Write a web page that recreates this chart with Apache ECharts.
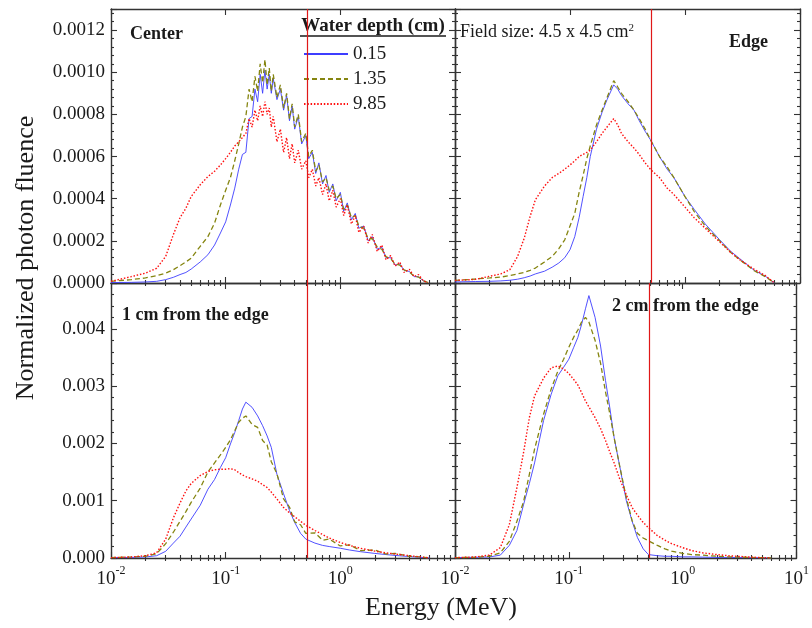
<!DOCTYPE html>
<html><head><meta charset="utf-8">
<script src="https://cdn.jsdelivr.net/npm/echarts@6/dist/echarts.min.js"></script>
<style>html,body{margin:0;padding:0;background:#fff}#c{width:812px;height:628px}</style>
</head><body><div id="c"></div>
<script>
// ---------------- DATA ----------------
const depthNames = ['0.15', '1.35', '9.85'];
const panelTitles = ['Center', 'Edge', '1 cm from the edge', '2 cm from the edge'];
const xTickLabels = ['10^-2', '10^-1', '10^0', '10^1'];
const annihilationEnergy = 0.511;
const minorTickEnergies = [0.02,0.03,0.04,0.05,0.06,0.07,0.08,0.09,0.2,0.3,0.4,0.5,0.6,0.7,0.8,0.9,2,3,4,5,6,7,8,9];

// Center panel
const energyCenter = [0.01,0.015,0.02,0.025,0.03,0.035,0.04,0.045,0.05,0.06,0.07,0.08,0.09,0.1,0.11,0.12,0.13,0.14,
  0.15,0.16,0.17,0.18,0.19,0.20,0.21,0.22,0.23,0.24,0.25,0.26,0.28,0.30,0.32,0.34,0.36,0.38,0.40,
  0.43,0.46,0.50,0.53,0.57,0.61,0.65,0.70,0.75,0.80,0.86,0.92,1.0,1.07,1.15,1.25,1.35,1.45,1.6,1.75,1.9,
  2.1,2.3,2.5,2.75,3.0,3.3,3.6,4.0,4.4,4.8,5.3,5.8];
const center015 = [0.000002,0.000003,0.000005,0.000008,0.000016,0.000027,0.00004,0.00005,0.000066,0.0001,0.000134,0.00018,0.000237,0.00029,0.00037,0.00045,0.00054,0.00061,
  0.00062,0.00078,0.00079,0.00092,0.00086,0.00099,0.0009,0.00101,0.00092,0.00099,0.0009,0.00097,0.00087,0.00092,0.00082,0.00089,0.00077,0.00084,0.00073,
  0.00079,0.00066,0.0007,0.00059,0.00062,0.00052,0.00057,0.00047,0.00051,0.00043,0.00047,0.00039,0.00043,0.00034,0.00038,0.0003,0.00033,0.00026,0.00027,0.0002,0.00022,
  0.00016,0.00017,0.00012,0.00012,0.000085,0.00009,0.00006,0.000055,0.00003,0.00003,0.00001,0.000002];
const center135 = [0.000008,0.000016,0.000024,0.000035,0.000047,0.000063,0.000082,0.0001,0.000118,0.000174,0.00022,0.000284,0.00037,0.00044,0.0005,0.00058,0.00066,0.00074,
  0.00079,0.00092,0.00086,0.00098,0.00091,0.00104,0.00095,0.00106,0.00094,0.00102,0.00091,0.00099,0.00088,0.00094,0.00083,0.0009,0.00078,0.00085,0.00074,
  0.0008,0.00067,0.00071,0.0006,0.00063,0.00053,0.00056,0.00048,0.0005,0.00044,0.00046,0.0004,0.00042,0.00035,0.00037,0.00031,0.00032,0.00027,0.00026,0.00021,0.00021,
  0.00017,0.00016,0.000125,0.000115,0.00009,0.000085,0.000062,0.000052,0.000032,0.000028,0.000011,0.000002];
const center985 = [0.000008,0.00003,0.000047,0.00007,0.000126,0.00023,0.00031,0.000355,0.00041,0.000466,0.000505,0.00053,0.00056,0.00059,0.00062,0.00065,0.00067,0.00069,
  0.00071,0.00078,0.00074,0.00082,0.00077,0.00084,0.00079,0.00086,0.0008,0.00083,0.00074,0.00079,0.00067,0.00073,0.00062,0.00069,0.00059,0.00066,0.00057,
  0.00063,0.00054,0.00058,0.0005,0.00054,0.00046,0.0005,0.00042,0.00047,0.00039,0.00044,0.00036,0.0004,0.00032,0.00037,0.00028,0.00032,0.00024,0.00027,0.00019,0.00023,
  0.00015,0.00018,0.00011,0.00013,0.00008,0.0001,0.00005,0.000065,0.00003,0.00004,0.00001,0.000002];

// Edge panel
const energyEdge = [0.01,0.015,0.02,0.025,0.03,0.035,0.04,0.045,0.05,0.06,0.07,0.08,0.09,0.1,0.11,0.12,0.13,0.14,0.15,0.17,0.19,0.21,0.24,0.26,0.28,0.32,0.36,0.4,0.45,0.5,0.6,0.7,0.8,1.0,1.2,1.5,2.0,2.5,3.0,4.0,5.0,6.0];
const edge015 = [0.000005,0.000007,0.000008,0.00001,0.000013,0.000018,0.000025,0.000033,0.000043,0.000056,0.000075,0.000095,0.00012,0.000158,0.00022,0.00031,0.00041,0.0005,0.0006,0.00073,0.00081,0.00087,0.00094,0.00092,0.00089,0.00085,0.00082,0.00077,0.00072,0.00068,0.0006,0.00054,0.0005,0.00041,0.00035,0.00028,0.000205,0.00015,0.000115,0.00006,0.000032,0];
const edge135 = [0.000012,0.000019,0.000024,0.000028,0.000035,0.000043,0.00005,0.00006,0.000071,0.0001,0.000126,0.000163,0.000205,0.00027,0.00033,0.00043,0.00051,0.00059,0.00065,0.00075,0.00082,0.00088,0.00096,0.00093,0.0009,0.00086,0.00082,0.00078,0.00073,0.00068,0.0006,0.00055,0.0005,0.00041,0.00034,0.00027,0.0002,0.000145,0.00011,0.000058,0.00003,0];
const edge985 = [0.000012,0.000017,0.000032,0.000043,0.000063,0.000126,0.000213,0.000316,0.000395,0.00046,0.0005,0.00052,0.00054,0.00056,0.00058,0.0006,0.00061,0.00062,0.00063,0.00067,0.00071,0.00074,0.00078,0.00075,0.00071,0.00067,0.00064,0.00061,0.00057,0.00054,0.0005,0.00045,0.00042,0.00036,0.00031,0.00026,0.000195,0.000145,0.00011,0.000065,0.000035,0];

// 1 cm / 2 cm from the edge panels
const energyOff = [0.01,0.015,0.02,0.025,0.03,0.035,0.04,0.045,0.05,0.06,0.07,0.08,0.09,0.1,0.11,0.12,0.13,0.14,0.15,0.17,0.19,0.21,0.23,0.25,0.28,0.32,0.36,0.4,0.45,0.5,0.6,0.7,0.8,1.0,1.2,1.5,2.0,2.5,3.0,4.0,5.0,6.0];
const cm1_015 = [0.000006,0.00001,0.000018,0.00004,0.000117,0.00026,0.00038,0.00054,0.00068,0.00092,0.0012,0.00137,0.00158,0.00175,0.00199,0.00219,0.0024,0.0026,0.00272,0.00263,0.00248,0.00231,0.00213,0.00193,0.00146,0.00112,0.00083,0.00062,0.00043,0.00033,0.00026,0.00022,0.0002,0.00017,0.00014,0.00011,0.00008,0.00006,0.000045,0.000025,0.000012,0];
const cm1_135 = [0.000006,0.000018,0.00003,0.000076,0.00025,0.00045,0.00064,0.00081,0.00097,0.00122,0.0015,0.00166,0.0018,0.00193,0.00206,0.00222,0.00237,0.00244,0.00248,0.00233,0.00228,0.00205,0.00197,0.00168,0.00147,0.00103,0.00089,0.00063,0.00058,0.00043,0.00044,0.00031,0.00033,0.00021,0.00023,0.00013,0.00014,0.00007,0.00008,0.00003,0.00002,0];
const cm1_985 = [0.000006,0.000018,0.00004,0.00009,0.00033,0.0007,0.00096,0.00117,0.0013,0.00144,0.00151,0.00154,0.00155,0.00155,0.00156,0.00154,0.00149,0.00145,0.00142,0.00138,0.00134,0.00128,0.00123,0.00115,0.00103,0.00088,0.00079,0.00072,0.00064,0.00057,0.00048,0.00041,0.00035,0.00027,0.00022,0.00017,0.00012,0.00009,0.00007,0.00004,0.00002,0];
const cm2_015 = [0.000006,0.000012,0.000018,0.00005,0.00022,0.00048,0.00093,0.0013,0.00166,0.0024,0.00286,0.00318,0.00333,0.00347,0.00367,0.00385,0.00409,0.00435,0.00458,0.0042,0.0037,0.0031,0.0026,0.0021,0.0016,0.001,0.00064,0.00036,0.00016,0.00006,0.00004,0.00003,0.00003,0.00002,0.00002,0.000015,0.00001,0.00001,0.000008,0.000005,0.000003,0];
const cm2_135 = [0.000006,0.000012,0.00003,0.00009,0.00029,0.00064,0.00098,0.00146,0.0019,0.00251,0.00295,0.00326,0.00347,0.00368,0.00385,0.00398,0.00413,0.0042,0.00412,0.0038,0.0034,0.0029,0.0025,0.0021,0.0016,0.00105,0.00065,0.00043,0.00035,0.0003,0.00022,0.00016,0.00012,0.00008,0.00006,0.00005,0.00003,0.00002,0.000015,0.00001,0.000005,0];
const cm2_985 = [0.000006,0.000018,0.00005,0.00018,0.00058,0.00123,0.00184,0.00245,0.00283,0.00314,0.00332,0.00335,0.0033,0.00322,0.00312,0.00302,0.00288,0.00274,0.00264,0.00245,0.00226,0.00205,0.00184,0.00166,0.00138,0.0011,0.00088,0.00075,0.00062,0.00053,0.00039,0.00031,0.00025,0.00018,0.00013,0.00009,0.00006,0.00004,0.00003,0.000015,0.000006,0];

// ---------------- CHART ----------------
const FONT = '"Liberation Serif", "Times New Roman", serif';
const INK = '#1a1a1a';
const panels = [
  { e: energyCenter, s: [center015, center135, center985] },
  { e: energyEdge, s: [edge015, edge135, edge985] },
  { e: energyOff, s: [cm1_015, cm1_135, cm1_985] },
  { e: energyOff, s: [cm2_015, cm2_135, cm2_985] }
];
const grids = [
  { left: 111, top: 9, width: 344, height: 274 },
  { left: 455, top: 9, width: 345, height: 274 },
  { left: 111, top: 283, width: 344, height: 275 },
  { left: 455, top: 283, width: 345, height: 275 }
];
const seriesStyles = [
  { color: '#3d3dff', type: 'solid', width: 0.9 },
  { color: '#858510', type: [5, 3], width: 1.3 },
  { color: '#ff1010', type: [1.5, 1.8], width: 1.4 }
];
const axisLineStyle = { color: '#333', width: 1.4 };
const tickLineStyle = { color: '#333', width: 1.1 };
const minorLog = minorTickEnergies.map(v => Math.log10(v));

function supFmt(v) {
  const ex = Math.round(Math.log10(v));
  const lbl = xTickLabels.find(t => t === '10^' + ex) || ('10^' + ex);
  const parts = lbl.split('^');
  return '{b|' + parts[0] + '}{s|' + parts[1] + '}';
}
const supRich = {
  b: { fontFamily: FONT, fontSize: 19, color: INK, lineHeight: 24, verticalAlign: 'bottom' },
  s: { fontFamily: FONT, fontSize: 12, color: INK, lineHeight: 12, verticalAlign: 'top' }
};

const xAxis = [], yAxis = [], series = [];
grids.forEach((g, i) => {
  const isBottom = i >= 2;
  const isTop = i < 2;
  const xi = xAxis.length;
  ['bottom', 'top'].forEach(pos => {
    xAxis.push({
      type: 'log', logBase: 10, gridIndex: i, min: 0.01, max: 10, position: pos,
      axisLine: { show: true, onZero: false, lineStyle: axisLineStyle },
      axisTick: { show: true, inside: true, length: 6, lineStyle: tickLineStyle },
      axisLabel: {
        show: isBottom && pos === 'bottom', margin: 7, showMaxLabel: i === 3, showMinLabel: true,
        formatter: supFmt, rich: supRich
      },
      splitLine: { show: false }
    });
  });
  ['bottom', 'top'].forEach(pos => {
    xAxis.push({
      type: 'value', gridIndex: i, min: -2, max: 1, position: pos,
      axisLine: { show: false }, axisLabel: { show: false }, splitLine: { show: false },
      axisTick: { show: true, inside: true, length: 3, customValues: minorLog, lineStyle: tickLineStyle }
    });
  });
  const yi = yAxis.length;
  ['left', 'right'].forEach(pos => {
    yAxis.push({
      type: 'value', gridIndex: i, min: 0, max: isTop ? 0.0013 : 0.0048, interval: isTop ? 0.0002 : 0.001,
      position: pos,
      axisLine: { show: true, onZero: false, lineStyle: axisLineStyle },
      axisTick: { show: true, inside: true, length: 6, lineStyle: tickLineStyle },
      minorTick: { show: true, splitNumber: 5, length: 3, lineStyle: tickLineStyle },
      axisLabel: {
        show: pos === 'left' && i % 2 === 0, showMaxLabel: false, margin: 6,
        fontFamily: FONT, fontSize: 19, color: INK,
        formatter: v => v.toFixed(isTop ? 4 : 3)
      },
      splitLine: { show: false }, minorSplitLine: { show: false }
    });
  });
  const p = panels[i];
  depthNames.forEach((name, k) => {
    const st = seriesStyles[k];
    const s = {
      name: name, type: 'line', xAxisIndex: xi, yAxisIndex: yi,
      data: p.e.map((e, j) => [e, p.s[k][j]]),
      symbol: 'none', showSymbol: false, smooth: false, clip: true,
      lineStyle: { color: st.color, type: st.type, width: st.width },
      itemStyle: { color: st.color },
      emphasis: { disabled: true }, animation: false, z: 2 + k
    };
    if (k === 2) {
      s.markLine = {
        silent: true, symbol: 'none', animation: false,
        label: { show: false },
        lineStyle: { color: '#e01818', type: 'solid', width: 1.2, opacity: 1 },
        data: [{ xAxis: annihilationEnergy, lineStyle: { color: '#e01818', type: 'solid', width: 1.2 } }]
      };
    }
    series.push(s);
  });
});

const chart = echarts.init(document.getElementById('c'), null, { renderer: 'canvas' });
chart.setOption({
  backgroundColor: '#fff',
  animation: false,
  grid: grids.map(g => Object.assign({ containLabel: false }, g)),
  xAxis, yAxis, series,
  legend: {
    data: depthNames, left: 298, top: 39, orient: 'vertical',
    itemWidth: 44, itemHeight: 14, itemGap: 5, selectedMode: false,
    itemStyle: { opacity: 0 },
    textStyle: { fontFamily: FONT, fontSize: 19, color: INK, lineHeight: 20 }
  },
  graphic: [
    { type: 'text', x: 26, y: 258, rotation: Math.PI / 2,
      style: { text: 'Normalized photon fluence', font: '26px ' + FONT, fill: INK, textAlign: 'center', textVerticalAlign: 'middle' } },
    { type: 'text', x: 441, y: 608,
      style: { text: 'Energy (MeV)', font: '26px ' + FONT, fill: INK, textAlign: 'center', textVerticalAlign: 'middle' } },
    { type: 'text', x: 373, y: 26,
      style: { text: 'Water depth (cm)', font: 'bold 19px ' + FONT, fill: INK, textAlign: 'center', textVerticalAlign: 'middle' } },
    { type: 'line', shape: { x1: 300, y1: 36, x2: 446, y2: 36 }, style: { stroke: INK, lineWidth: 1.5 } },
    { type: 'text', x: 130, y: 34,
      style: { text: panelTitles[0], font: 'bold 18px ' + FONT, fill: INK, textAlign: 'left', textVerticalAlign: 'middle' } },
    { type: 'text', x: 768, y: 42,
      style: { text: panelTitles[1], font: 'bold 18px ' + FONT, fill: INK, textAlign: 'right', textVerticalAlign: 'middle' } },
    { type: 'text', x: 122, y: 315,
      style: { text: panelTitles[2], font: 'bold 18px ' + FONT, fill: INK, textAlign: 'left', textVerticalAlign: 'middle' } },
    { type: 'text', x: 612, y: 306,
      style: { text: panelTitles[3], font: 'bold 18px ' + FONT, fill: INK, textAlign: 'left', textVerticalAlign: 'middle' } },
    { type: 'text', x: 460, y: 32,
      style: { text: 'Field size: 4.5 x 4.5 cm{s|2}', font: '18px ' + FONT, fill: INK, textAlign: 'left', textVerticalAlign: 'middle',
        rich: { s: { fontFamily: FONT, fontSize: 11, fill: INK, verticalAlign: 'top', lineHeight: 10 } } } }
  ]
});
</script></body></html>
